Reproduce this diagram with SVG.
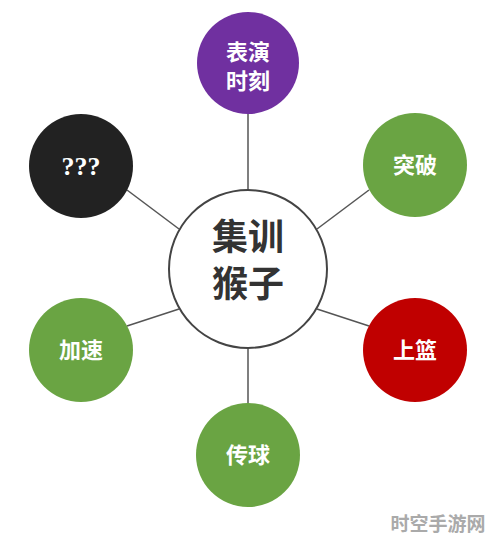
<svg xmlns="http://www.w3.org/2000/svg" width="497" height="540" viewBox="0 0 497 540">
<style>
.node-text{font-family:"Noto Sans CJK SC","Noto Sans",sans-serif;font-weight:bold;fill:#fff;text-anchor:middle;font-size:22px}
.center-text{font-family:"Noto Sans CJK SC","Noto Sans",sans-serif;font-weight:bold;fill:#333;text-anchor:middle;font-size:36px}
.conn{stroke:#555;stroke-width:1.5;fill:none}
</style>
<rect width="497" height="540" fill="#fff"/>
<g id="connectors">
<line class="conn" x1="248" y1="114" x2="248" y2="190"/>
<line class="conn" x1="248" y1="348" x2="248" y2="404"/>
<line class="conn" x1="127" y1="190" x2="179" y2="229"/>
<line class="conn" x1="369" y1="190" x2="317" y2="229"/>
<line class="conn" x1="127" y1="326" x2="179" y2="309"/>
<line class="conn" x1="369" y1="326" x2="317" y2="309"/>
</g>
<g id="center">
<circle cx="248" cy="269" r="79" fill="#fff" stroke="#444" stroke-width="2"/>
<text class="center-text" x="248" y="250">集训</text>
<text class="center-text" x="248" y="297">猴子</text>
</g>
<g id="node-top">
<circle cx="248" cy="63" r="51" fill="#7030a0"/>
<text class="node-text" x="248" y="60" font-size="21">表演</text>
<text class="node-text" x="248" y="89" font-size="21">时刻</text>
</g>
<g id="node-unknown">
<circle cx="81" cy="166" r="52" fill="#222"/>
<text x="81" y="175" font-family="Liberation Serif,serif" font-weight="bold" font-size="26" fill="#fff" text-anchor="middle">???</text>
</g>
<g id="node-tupo">
<circle cx="415" cy="165" r="52" fill="#6aa443"/>
<text class="node-text" x="415" y="173">突破</text>
</g>
<g id="node-jiasu">
<circle cx="81" cy="350" r="52" fill="#6aa443"/>
<text class="node-text" x="81" y="358">加速</text>
</g>
<g id="node-shanglan">
<circle cx="415" cy="350" r="52" fill="#c00000"/>
<text class="node-text" x="415" y="358">上篮</text>
</g>
<g id="node-chuanqiu">
<circle cx="248" cy="455" r="52" fill="#6aa443"/>
<text class="node-text" x="248" y="463">传球</text>
</g>
<text x="438" y="531" font-family="Noto Sans CJK SC,sans-serif" font-weight="bold" font-size="19" fill="#aaa" text-anchor="middle">时空手游网</text>
</svg>
